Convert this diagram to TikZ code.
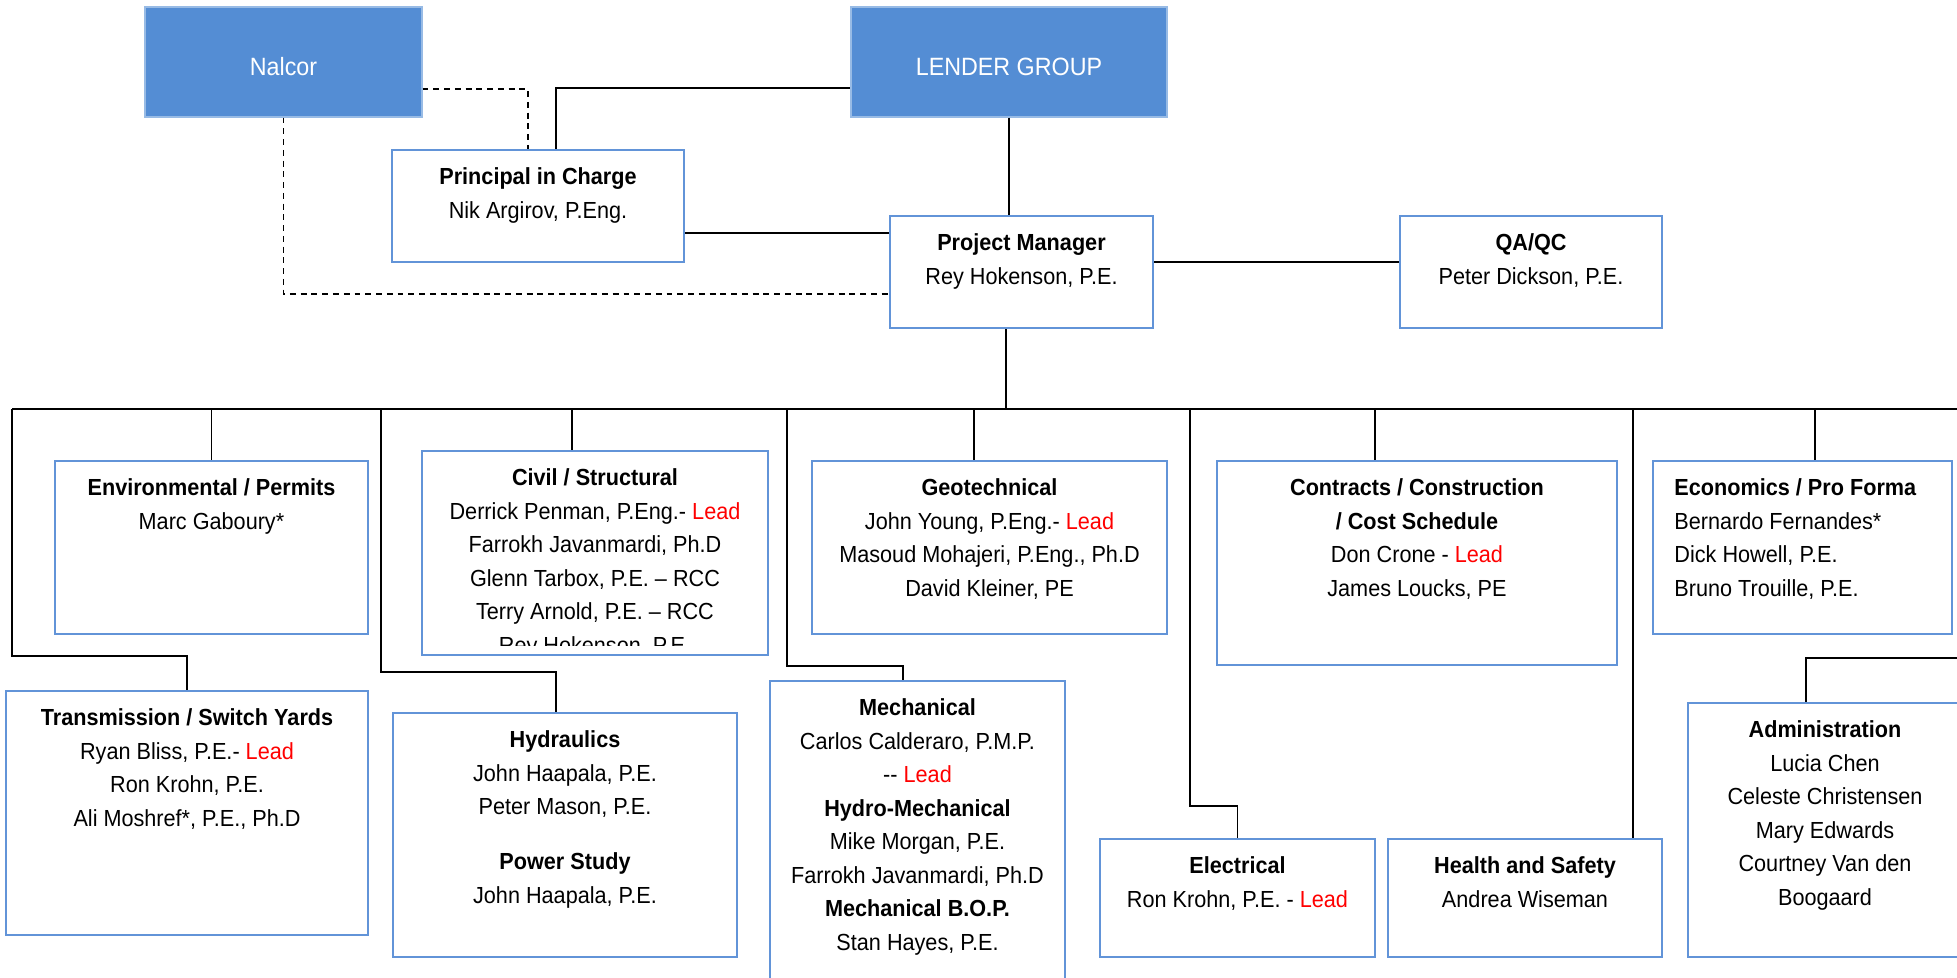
\documentclass[tikz,border=0pt]{standalone}
\usepackage{fontspec}
\setmainfont[FakeStretch=0.93]{Liberation Sans}
\usetikzlibrary{fit}
\definecolor{unitfill}{RGB}{84,141,212}
\definecolor{unitline}{RGB}{98,148,216}
\definecolor{leadred}{RGB}{255,0,0}
\newcommand{\lead}{\textcolor{leadred}{Lead}}

\begin{document}
\begin{tikzpicture}[x=0.016cm, y=-0.016cm,
    every node/.style={font=\fontsize{10.6pt}{15.25pt}\selectfont},
    topunit/.style={fill=unitfill, draw=unitfill!60!white, line width=0.5pt, inner sep=0pt},
    toptext/.style={text=white, inner sep=0pt, yshift=-0.08cm, font=\fontsize{11.4pt}{14pt}\selectfont},
    unit/.style={draw=unitline, line width=1.1pt, fill=white, inner sep=0pt},
    unittext/.style={anchor=north, align=center, inner sep=0pt, yshift=-0.3cm},
    link/.style={line width=0.9pt},
    drop/.style={line width=0.6pt},
    dashlink/.style={line width=0.8pt, dash pattern=on 2.7pt off 2.2pt}]
    \useasboundingbox (0,0) rectangle (1957,977);

    % top of the chart
    \node (nalcor) [topunit, fit={(145,7) (422,117)}] {};
    \node (lender) [topunit, fit={(851,7) (1167,117)}] {};
    \node (nalcor-t) [toptext] at (nalcor.center) {Nalcor};
    \node (lender-t) [toptext] at (lender.center) {LENDER GROUP};
    \node (principal) [unit, fit={(392,150) (684,262)}] {};
    \node (pm) [unit, fit={(890,216) (1153,328)}] {};
    \node (qaqc) [unit, fit={(1400,216) (1662,328)}] {};
    \node (principal-t) [unittext] at (principal.north)
        {\textbf{Principal in Charge}\\Nik Argirov, P.Eng.};
    \node (pm-t) [unittext] at (pm.north)
        {\textbf{Project Manager}\\Rey Hokenson, P.E.};
    \node (qaqc-t) [unittext] at (qaqc.north)
        {\textbf{QA/QC}\\Peter Dickson, P.E.};

    \draw[link] (principal.north -| 556,0) |- (lender.west |- 0,88);
    \draw[drop] (lender.south) -- (lender.south |- pm.north);
    \draw[link] (principal.east |- 0,233) -- (pm.west |- 0,233);
    \draw[link] (pm.east |- 0,262) -- (qaqc.west |- 0,262);
    \draw[dashlink] (nalcor.east |- 0,89) -| (principal.north -| 528,0);
    \draw[dashlink] (nalcor.south) |- (pm.west |- 0,294);

    % bus line
    \coordinate (bus) at (1006,409);
    \coordinate (busL) at (12,409);
    \coordinate (busR) at (1957,409);
    \draw[link] (pm.south -| bus) -- (bus);
    \draw[link] (busL) -- (busR);

    % first row of units
    \node (env) [unit, fit={(55,461) (368,634)}] {};
    \node (civil) [unit, fit={(422,451) (768,655)}] {};
    \node (geo) [unit, fit={(812,461) (1167,634)}] {};
    \node (contracts) [unit, fit={(1217,461) (1617,665)}] {};
    \node (econ) [unit, fit={(1653,461) (1952,634)}] {};

    \node (env-t) [unittext] at (env.north)
        {\textbf{Environmental / Permits}\\Marc Gaboury*};
    \begin{scope}
        \clip (422,451) rectangle (768,645);
        \node (civil-t) [unittext] at (civil.north)
            {\textbf{Civil / Structural}\\Derrick Penman, P.Eng.- \lead\\
             Farrokh Javanmardi, Ph.D\\Glenn Tarbox, P.E. – RCC\\
             Terry Arnold, P.E. – RCC\\Rey Hokenson, P.E.};
    \end{scope}
    \node (geo-t) [unittext] at (geo.north)
        {\textbf{Geotechnical}\\John Young, P.Eng.- \lead\\
         Masoud Mohajeri, P.Eng., Ph.D\\David Kleiner, PE};
    \node (contracts-t) [unittext] at (contracts.north)
        {\textbf{Contracts / Construction}\\\textbf{/ Cost Schedule}\\
         Don Crone - \lead\\James Loucks, PE};
    \node (econ-t) [unittext, anchor=north west, align=left] at (econ.north -| 1674,0)
        {\textbf{Economics / Pro Forma}\\Bernardo Fernandes*\\
         Dick Howell, P.E.\\Bruno Trouille, P.E.};

    \draw[drop] (bus -| env.north) -- (env.north);
    \draw[drop] (bus -| 572,0) -- (civil.north -| 572,0);
    \draw[drop] (bus -| 974,0) -- (geo.north -| 974,0);
    \draw[drop] (bus -| 1375,0) -- (contracts.north -| 1375,0);
    \draw[drop] (bus -| 1815,0) -- (econ.north -| 1815,0);

    % second row of units
    \node (trans) [unit, fit={(6,691) (368,935)}] {};
    \node (hydr) [unit, fit={(393,713) (737,957)}] {};
    \node (mech) [unit, fit={(770,681) (1065,990)}] {};
    \node (elec) [unit, fit={(1100,839) (1375,957)}] {};
    \node (hs) [unit, fit={(1388,839) (1662,957)}] {};
    \node (admin) [unit, fit={(1688,703) (1965,957)}] {};

    \node (trans-t) [unittext] at (trans.north)
        {\textbf{Transmission / Switch Yards}\\Ryan Bliss, P.E.- \lead\\
         Ron Krohn, P.E.\\Ali Moshref*, P.E., Ph.D};
    \node (hydr-t) [unittext] at (hydr.north)
        {\textbf{Hydraulics}\\John Haapala, P.E.\\Peter Mason, P.E.\\[0.34cm]
         \textbf{Power Study}\\John Haapala, P.E.};
    \node (mech-t) [unittext] at (mech.north)
        {\textbf{Mechanical}\\Carlos Calderaro, P.M.P.\\-{}- \lead\\
         \textbf{Hydro-Mechanical}\\Mike Morgan, P.E.\\Farrokh Javanmardi, Ph.D\\
         \textbf{Mechanical B.O.P.}\\Stan Hayes, P.E.};
    \node (elec-t) [unittext] at (elec.north)
        {\textbf{Electrical}\\Ron Krohn, P.E. - \lead};
    \node (hs-t) [unittext] at (hs.north)
        {\textbf{Health and Safety}\\Andrea Wiseman};
    \node (admin-t) [unittext] at (admin.north -| 1825,0)
        {\textbf{Administration}\\Lucia Chen\\Celeste Christensen\\
         Mary Edwards\\Courtney Van den\\Boogaard};

    \draw[link] (busL) |- (trans.north |- 0,656) -- (trans.north);
    \draw[link] (bus -| 381,0) |- (556,672) -- (hydr.north -| 556,0);
    \draw[link] (bus -| 787,0) |- (903,666) -- (mech.north -| 903,0);
    \draw[link] (bus -| 1190,0) |- (elec.north |- 0,806) -- (elec.north);
    \draw[link] (bus -| 1633,0) -- (hs.north -| 1633,0);
    \draw[link] (busR |- 0,658) -| (admin.north -| 1806,0);
\end{tikzpicture}
\end{document}
